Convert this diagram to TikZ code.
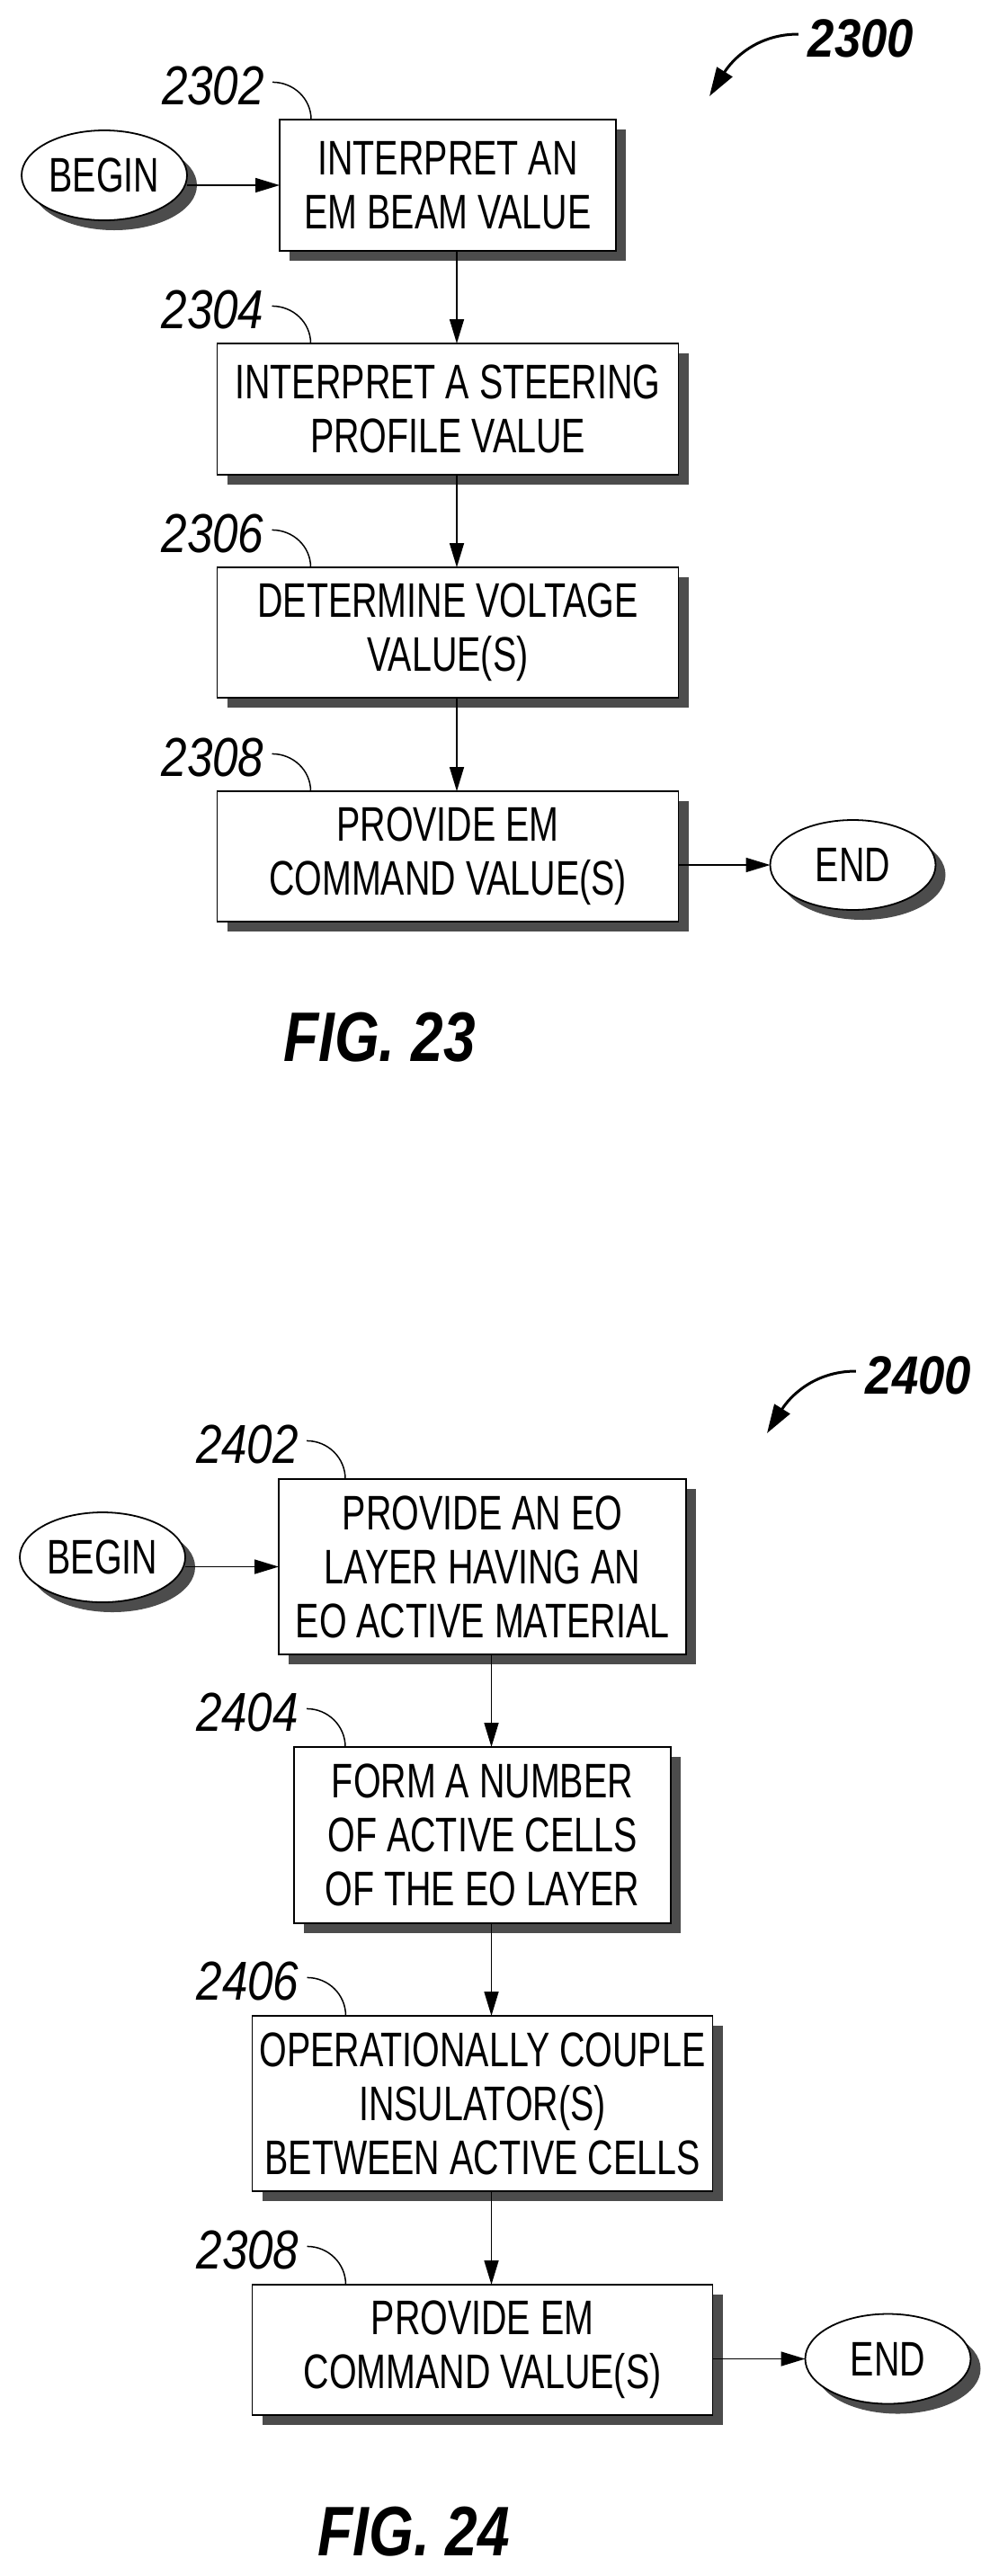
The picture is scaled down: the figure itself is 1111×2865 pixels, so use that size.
\documentclass[tikz,border=0pt]{standalone}
\usepackage{fontspec}
\usetikzlibrary{arrows.meta, shapes, shadows, positioning}
\newfontfamily\stepfont[FakeStretch=0.73]{Liberation Sans}
\newfontfamily\numfont[FakeStretch=0.84]{Liberation Sans}
\newfontfamily\figfont[FakeStretch=0.82]{Liberation Sans}
\newfontfamily\bigfont[FakeStretch=0.88]{Liberation Sans}
\tikzset{
  x=1pt, y=1pt,
  flat/.style={drop shadow={shadow xshift=11pt, shadow yshift=-11pt, fill=black!70, opacity=1}},
  stepbox/.style={draw, line width=1.8pt, fill=white, flat, inner sep=0pt, outer sep=0pt, align=center,
    font=\stepfont\fontsize{54}{60}\selectfont},
  terminal/.style={stepbox, ellipse, minimum width=184pt, minimum height=100pt},
  refnum/.style={inner sep=0pt, outer sep=0pt, font=\numfont\itshape\fontsize{61}{61}\selectfont},
  bignum/.style={inner sep=0pt, outer sep=0pt, font=\bigfont\bfseries\itshape\fontsize{60}{60}\selectfont},
  figlabel/.style={inner sep=0pt, outer sep=0pt, font=\figfont\bfseries\itshape\fontsize{78}{78}\selectfont},
  arrow/.style={line width=1.6pt, -{Triangle[length=27pt, width=16pt]}},
  leader/.style={line width=1.5pt},
  swoosh/.style={line width=3pt, -{Triangle[length=32pt, width=20pt]}}
}
\newcommand{\refline}[2]{\draw[leader] ([xshift=9pt,yshift=4pt]#1.east) to[out=0,in=90] ([xshift=52pt]#1.east |- #2.north);}
\newcommand{\flow}[2]{\draw[arrow] ([xshift=10pt]#1.south) -- ([xshift=10pt]#1.south |- #2.north);}
\begin{document}
\begin{tikzpicture}
\useasboundingbox (0,0) rectangle (1111,-2865);
\fill[white] (0,0) rectangle (1111,-2865);

% FIG. 23
\node[stepbox, minimum width=374pt, minimum height=146pt] (interpret) at (498,-206) {INTERPRET AN\\EM BEAM VALUE};
\node[stepbox, minimum width=513pt, minimum height=146pt, below=103pt of interpret] (steering) {INTERPRET A STEERING\\PROFILE VALUE};
\node[stepbox, minimum width=513pt, minimum height=145pt, below=103pt of steering] (voltage) {DETERMINE VOLTAGE\\VALUE(S)};
\node[stepbox, minimum width=513pt, minimum height=145pt, below=104pt of voltage] (command) {PROVIDE EM\\COMMAND VALUE(S)};
\node[terminal, left=103pt of interpret, yshift=11pt] (begina) {BEGIN};
\node[terminal, right=102pt of command, yshift=-9.5pt] (enda) {END};

\node[refnum, above left=16pt and 17pt of interpret.north west] (n2302) {2302};
\node[refnum, above left=16pt and -52pt of steering.north west] (n2304) {2304};
\node[refnum, above left=16pt and -52pt of voltage.north west] (n2306) {2306};
\node[refnum, above left=16pt and -52pt of command.north west] (n2308) {2308};
\node[figlabel, below=101pt of command, xshift=-76pt] (fig23) {FIG. 23};
\node[bignum] (n2300) at (957.5,-43) {2300};
\coordinate (tip23) at (789,-107);

\draw[arrow] (begina.east |- interpret.west) -- (interpret.west);
\flow{interpret}{steering}
\flow{steering}{voltage}
\flow{voltage}{command}
\draw[arrow] (command.east |- enda.west) -- (enda.west);
\refline{n2302}{interpret}
\refline{n2304}{steering}
\refline{n2306}{voltage}
\refline{n2308}{command}
\draw[swoosh] ([xshift=-11pt,yshift=5pt]n2300.west) to[out=180,in=58] (tip23);

% FIG. 24
\node[stepbox, minimum width=453pt, minimum height=195pt] (provide) at (536.5,-1742.5) {PROVIDE AN EO\\LAYER HAVING AN\\EO ACTIVE MATERIAL};
\node[stepbox, minimum width=419pt, minimum height=196pt, below=103pt of provide] (form) {FORM A NUMBER\\OF ACTIVE CELLS\\OF THE EO LAYER};
\node[stepbox, minimum width=512pt, minimum height=195pt, below=103pt of form] (couple) {OPERATIONALLY COUPLE\\INSULATOR(S)\\BETWEEN ACTIVE CELLS};
\node[stepbox, minimum width=512pt, minimum height=145pt, below=104pt of couple] (commandb) {PROVIDE EM\\COMMAND VALUE(S)};
\node[terminal, left=104pt of provide, yshift=10.5pt] (beginb) {BEGIN};
\node[terminal, right=103pt of commandb, yshift=-10pt] (endb) {END};

\node[refnum, above left=17pt and -22pt of provide.north west] (n2402) {2402};
\node[refnum, above left=17pt and -5pt of form.north west] (n2404) {2404};
\node[refnum, above left=17pt and -52pt of couple.north west] (n2406) {2406};
\node[refnum, above left=17pt and -52pt of commandb.north west] (n2308b) {2308};
\node[figlabel, below=102pt of commandb, xshift=-76pt] (fig24) {FIG. 24};
\node[bignum] (n2400) at (1021.5,-1530) {2400};
\coordinate (tip24) at (853,-1594);

\draw[arrow] (beginb.east |- provide.west) -- (provide.west);
\flow{provide}{form}
\flow{form}{couple}
\flow{couple}{commandb}
\draw[arrow] (commandb.east |- endb.west) -- (endb.west);
\refline{n2402}{provide}
\refline{n2404}{form}
\refline{n2406}{couple}
\refline{n2308b}{commandb}
\draw[swoosh] ([xshift=-11pt,yshift=5pt]n2400.west) to[out=180,in=58] (tip24);
\end{tikzpicture}
\end{document}
